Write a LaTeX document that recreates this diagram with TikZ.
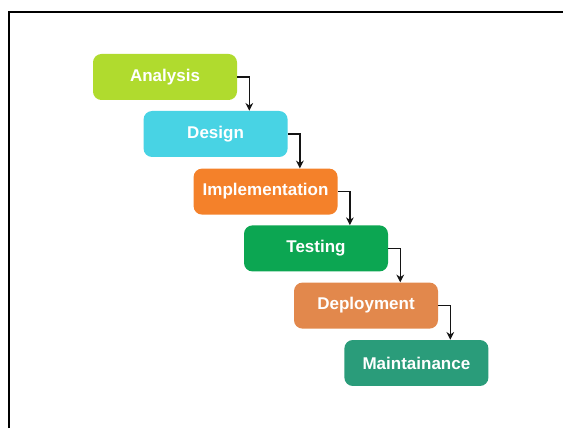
\documentclass[tikz,border=0pt]{standalone}
\usepackage{xcolor}
\usepackage{fontspec}
\setmainfont{Liberation Sans}
\usepackage{tikz}
\usetikzlibrary{arrows.meta, positioning, calc}
\definecolor{anagreen}{RGB}{176,219,46}
\definecolor{descyan}{RGB}{72,211,228}
\definecolor{imporange}{RGB}{244,129,42}
\definecolor{testgreen}{RGB}{12,166,82}
\definecolor{deporange}{RGB}{226,136,76}
\definecolor{mainteal}{RGB}{42,156,122}
\definecolor{mydark}{RGB}{20,20,20}
\tikzset{
  phase/.style={rectangle, draw=none, text=white,
    minimum width=3.6cm, minimum height=1.15cm,
    font=\fontsize{12.1}{14}\selectfont\bfseries, rounded corners=6pt},
  arrow/.style={-{Stealth[length=5.5pt,width=5.5pt]}, line width=1.1pt, color=mydark}
}

\begin{document}
\begin{tikzpicture}
  \useasboundingbox (0,0) rectangle (14.075,10.7);
  % frame on the left and top
  \draw[line width=1.4pt, black] (0.225,0) -- (0.225,10.4) -- (14.075,10.4);

  % --- PHASES ---
  \node[phase, fill=anagreen] (ana) at (4.125, 8.775) {Analysis};
  \node[phase, fill=descyan] (des) at (5.39, 7.35) {Design};
  \node[phase, fill=imporange] (imp) at (6.64, 5.91) {Implementation};
  \node[phase, fill=testgreen] (tes) at (7.90, 4.49) {Testing};
  \node[phase, fill=deporange] (dep) at (9.15, 3.06) {Deployment};
  \node[phase, fill=mainteal] (mai) at (10.41, 1.625) {Maintainance};

  % --- STEP CONNECTORS ---
  \coordinate (c1) at ([xshift=0.3cm]ana.east);
  \coordinate (c2) at ([xshift=0.3cm]des.east);
  \coordinate (c3) at ([xshift=0.3cm]imp.east);
  \coordinate (c4) at ([xshift=0.3cm]tes.east);
  \coordinate (c5) at ([xshift=0.3cm]dep.east);
  \draw[arrow] (ana.east) -| (c1 |- des.north);
  \draw[arrow] (des.east) -| (c2 |- imp.north);
  \draw[arrow] (imp.east) -| (c3 |- tes.north);
  \draw[arrow] (tes.east) -| (c4 |- dep.north);
  \draw[arrow] (dep.east) -| (c5 |- mai.north);
\end{tikzpicture}
\end{document}
